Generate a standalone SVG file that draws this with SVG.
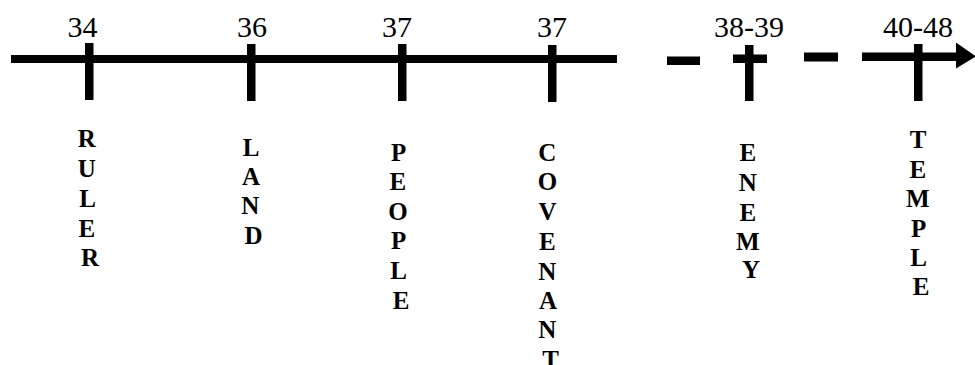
<svg xmlns="http://www.w3.org/2000/svg" width="975" height="365" viewBox="0 0 975 365">
  <style>
    .bar { fill: #000; }
    .num { font-family: "Liberation Serif", "Times New Roman", "DejaVu Serif", serif; font-size: 30px; fill: #000; text-anchor: middle; }
    .lbl { font-family: "Liberation Serif", "Times New Roman", "DejaVu Serif", serif; font-size: 25px; font-weight: bold; fill: #000; text-anchor: middle; }
  </style>
  <rect width="975" height="365" fill="#fff"/>

  <!-- timeline axis segments and arrow -->
  <g id="connectors">
    <rect class="bar" x="11" y="55" width="606" height="8"/>
    <rect class="bar" x="667" y="56.5" width="33" height="8.5"/>
    <rect class="bar" x="733" y="54.5" width="34" height="8.5"/>
    <rect class="bar" x="804" y="52.5" width="34" height="9"/>
    <rect class="bar" x="862" y="52.5" width="96" height="8.5"/>
    <polygon class="bar" points="956,42.5 976,56.5 956,68.5"/>
  </g>

  <!-- chapter markers -->
  <g id="ruler">
    <rect class="bar" x="85" y="43" width="8.5" height="57"/>
    <text class="num" x="82.5" y="37">34</text>
    <text class="lbl">
      <tspan x="90" y="147">R</tspan>
      <tspan x="90" y="177">U</tspan>
      <tspan x="90" y="207">L</tspan>
      <tspan x="90" y="237">E</tspan>
      <tspan x="90" y="266">R</tspan>
    </text>
  </g>

  <g id="land">
    <rect class="bar" x="247" y="44" width="8.5" height="57"/>
    <text class="num" x="252" y="37">36</text>
    <text class="lbl">
      <tspan x="253.5" y="156">L</tspan>
      <tspan x="253.5" y="185">A</tspan>
      <tspan x="253.5" y="214">N</tspan>
      <tspan x="253.5" y="244">D</tspan>
    </text>
  </g>

  <g id="people">
    <rect class="bar" x="398" y="44" width="8.5" height="57"/>
    <text class="num" x="397" y="37">37</text>
    <text class="lbl">
      <tspan x="401" y="161">P</tspan>
      <tspan x="401" y="190">E</tspan>
      <tspan x="401" y="220">O</tspan>
      <tspan x="401" y="249">P</tspan>
      <tspan x="401" y="279">L</tspan>
      <tspan x="401" y="309">E</tspan>
    </text>
  </g>

  <g id="covenant">
    <rect class="bar" x="548" y="45" width="8.5" height="57"/>
    <text class="num" x="552" y="37">37</text>
    <text class="lbl">
      <tspan x="550.5" y="161">C</tspan>
      <tspan x="550.5" y="190">O</tspan>
      <tspan x="550.5" y="220">V</tspan>
      <tspan x="550.5" y="250">E</tspan>
      <tspan x="550.5" y="280">N</tspan>
      <tspan x="550.5" y="309">A</tspan>
      <tspan x="550.5" y="338">N</tspan>
      <tspan x="550.5" y="368">T</tspan>
    </text>
  </g>

  <g id="enemy">
    <rect class="bar" x="745" y="45" width="8.5" height="56"/>
    <text class="num" x="749" y="37">38-39</text>
    <text class="lbl">
      <tspan x="751" y="161">E</tspan>
      <tspan x="751" y="191">N</tspan>
      <tspan x="751" y="221">E</tspan>
      <tspan x="751" y="250">M</tspan>
      <tspan x="751" y="278">Y</tspan>
    </text>
  </g>

  <g id="temple">
    <rect class="bar" x="914" y="44" width="8.5" height="57"/>
    <text class="num" x="918" y="37">40-48</text>
    <text class="lbl">
      <tspan x="921" y="148">T</tspan>
      <tspan x="921" y="178">E</tspan>
      <tspan x="921" y="207">M</tspan>
      <tspan x="921" y="237">P</tspan>
      <tspan x="921" y="266">L</tspan>
      <tspan x="921" y="295">E</tspan>
    </text>
  </g>
</svg>
